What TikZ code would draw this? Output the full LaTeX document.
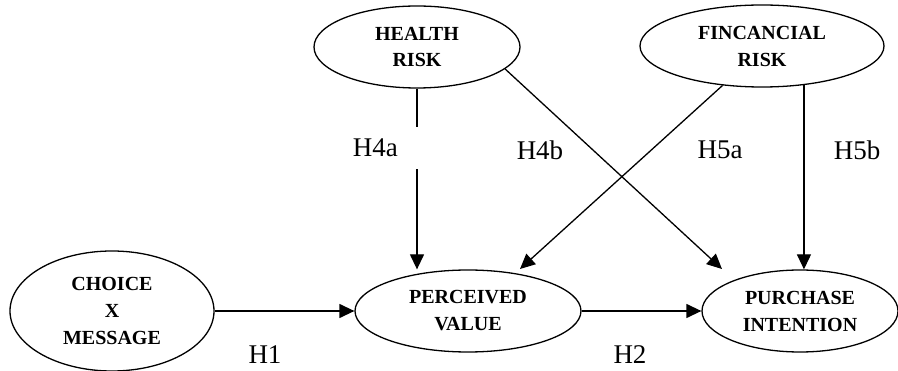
\documentclass[tikz,border=0pt]{standalone}
\usepackage{fontspec}
\setmainfont{Liberation Serif}
\usetikzlibrary{shapes.geometric,arrows.meta,calc}
\begin{document}
\begin{tikzpicture}[x=1pt,y=-1pt,
  construct/.style={ellipse,draw,line width=1.3pt,align=center,inner sep=0pt,
    font=\fontsize{20}{27}\selectfont\bfseries},
  arr/.style={line width=1.3pt,-{Triangle[length=15pt,width=14pt]}},
  hlabel/.style={font=\fontsize{27}{30}\selectfont,inner sep=0pt}]
\useasboundingbox[fill=white] (0,0) rectangle (898,371);
\node[construct,minimum width=206pt,minimum height=82pt] (hr) at (417,47) {HEALTH\\RISK};
\node[construct,minimum width=244pt,minimum height=82pt] (fr) at (762,46) {FINCANCIAL\\RISK};
\node[construct,minimum width=204pt,minimum height=120pt] (cm) at (112,311) {CHOICE\\X\\MESSAGE};
\node[construct,minimum width=226pt,minimum height=82pt] (pv) at (468,311) {PERCEIVED\\VALUE};
\node[construct,minimum width=196pt,minimum height=82pt] (pi) at (800,311) {PURCHASE\\INTENTION};
% connectors
\draw[arr] (cm.east) -- (pv.west);
\draw[arr] (pv.east) -- (pi.west);
\draw[arr] (hr.south) -- (hr.south |- pv.north);
\draw[arr] (fr.-43) -- (fr.-43 |- pi.north);
\draw[arr] (hr.-14) -- ($(pi.center)+(-78,-42)$);
\draw[arr] (fr.-135) -- ($(pv.center)+(52,-42)$);
% labels
\node[hlabel,fill=white,anchor=east,minimum height=42pt,text width=66pt,align=left] (h4a) at (419,148) {H4a};
\node[hlabel] (h4b) at (540,150) {H4b};
\node[hlabel] (h5a) at (720,150) {H5a};
\node[hlabel] (h5b) at (857,150) {H5b};
\node[hlabel] (h1) at (265,355) {H1};
\node[hlabel] (h2) at (630,355) {H2};
\end{tikzpicture}
\end{document}
